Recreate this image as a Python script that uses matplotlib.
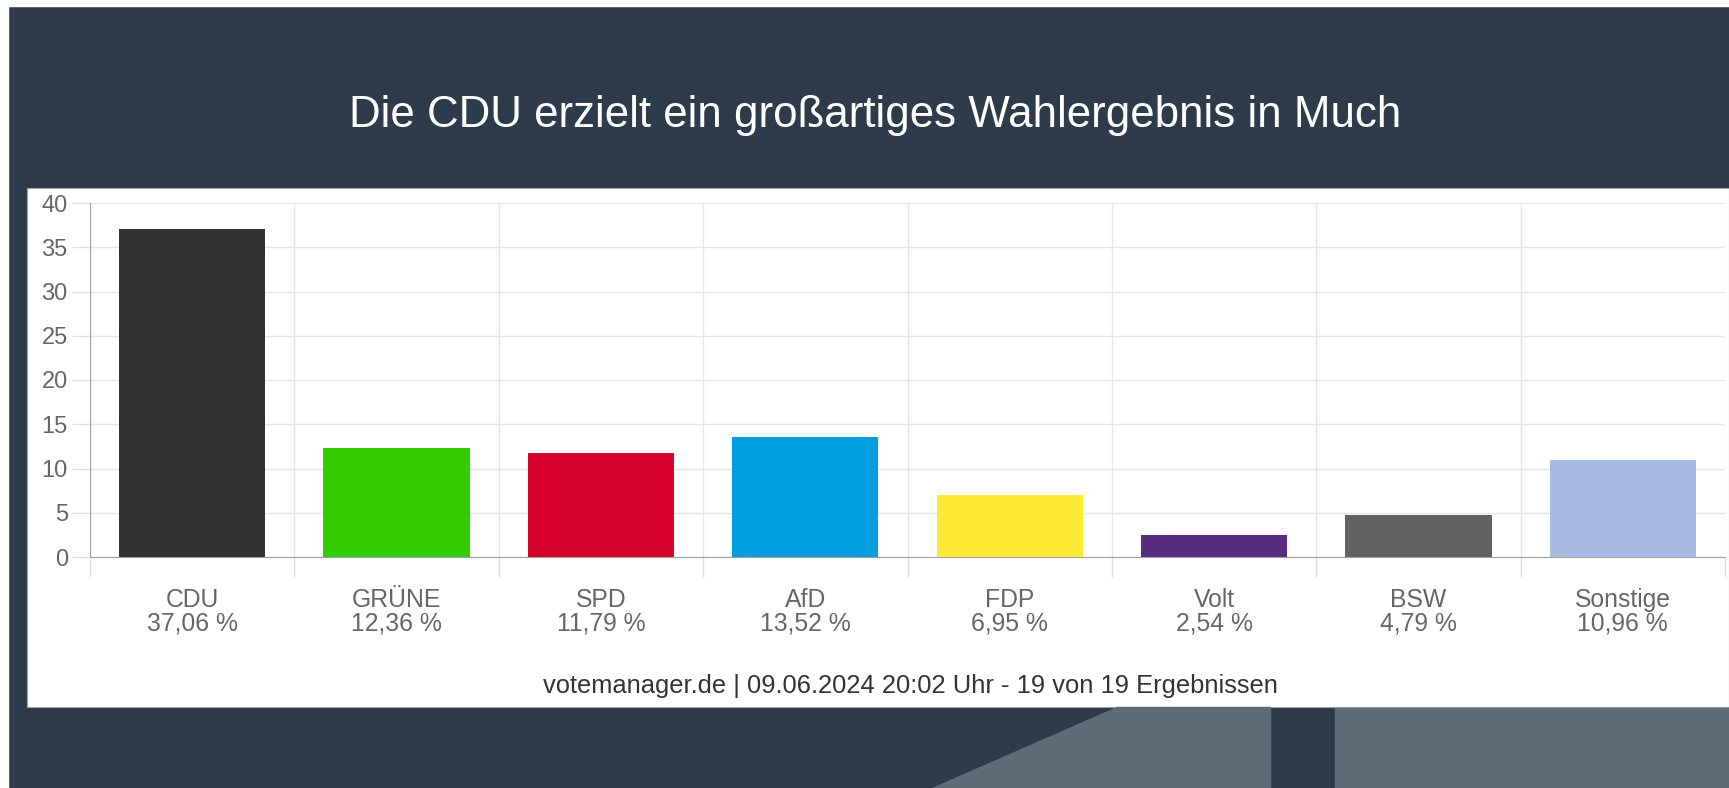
import matplotlib.pyplot as plt
from matplotlib.patches import Rectangle, Polygon

plt.rcParams['font.family'] = ['Liberation Sans', 'DejaVu Sans']

# data
parties = ['CDU', 'GRÜNE', 'SPD', 'AfD', 'FDP', 'Volt', 'BSW', 'Sonstige']
shares = [37.06, 12.36, 11.79, 13.52, 6.95, 2.54, 4.79, 10.96]
share_labels = ['37,06 %', '12,36 %', '11,79 %', '13,52 %', '6,95 %', '2,54 %', '4,79 %', '10,96 %']
colors = ['#323232', '#32cc00', '#d4002a', '#009ee0', '#fcea35', '#582c83', '#626262', '#a8bce2']
y_ticks = [0, 5, 10, 15, 20, 25, 30, 35, 40]

W, H = 1729, 788
bg = '#2d3b4a'
fig = plt.figure(figsize=(W / 100, H / 100), dpi=100, facecolor=bg)

def px(x0, y0, x1, y1):
    # pixel box (top-left origin) -> figure fraction rect
    return (x0 / W, 1 - y1 / H), (x1 - x0) / W, (y1 - y0) / H

# white strips at top and left edge of the screenshot
for box in [(0, 0, W, 6), (0, 0, 8, H)]:
    xy, w, h = px(*box)
    fig.patches.append(Rectangle(xy, w, h, transform=fig.transFigure, color='white', zorder=-2))

# white chart panel
xy, w, h = px(27, 188, W, 707)
fig.patches.append(Rectangle(xy, w, h, transform=fig.transFigure, facecolor='white',
                             edgecolor='#9aa0a6', lw=0.8, zorder=-2))

# decorative gray shapes below the panel
gray = '#5f6b77'
pts = [(1117, 707), (1270, 707), (1270, H), (932, H)]
fig.patches.append(Polygon([(x / W, 1 - y / H) for x, y in pts], closed=True,
                           transform=fig.transFigure, color=gray, zorder=-2))
xy, w, h = px(1335, 708, W, H)
fig.patches.append(Rectangle(xy, w, h, transform=fig.transFigure, color=gray, zorder=-2))

fig.text(875 / W, 1 - 116 / H, 'Die CDU erzielt ein großartiges Wahlergebnis in Much',
         color='white', fontsize=31.6, ha='center', va='center')

ax = fig.add_axes([90 / W, 1 - 557 / H, (1725 - 90) / W, (557 - 203) / H])
ax.set_zorder(1)
ax.set_facecolor('none')
x = list(range(len(parties)))
ax.bar(x, shares, width=0.715, color=colors, zorder=3)

ax.set_xlim(-0.5, len(parties) - 0.5)
ax.set_ylim(0, 40)
ax.set_yticks(y_ticks)
ax.tick_params(axis='y', length=13, color='#e0e0e0', width=1, pad=3, labelsize=17, labelcolor='#666666')

# category borders as major ticks, labels on minor ticks
ax.set_xticks([i - 0.5 for i in range(len(parties) + 1)])
ax.set_xticklabels([])
ax.tick_params(axis='x', which='major', length=14.4, color='#e0e0e0', width=1)
ax.set_xticks(x, minor=True)
ax.set_xticklabels([p + '\n' + s for p, s in zip(parties, share_labels)], minor=True)
ax.tick_params(axis='x', which='minor', length=0, pad=22, labelsize=17.8, labelcolor='#666666')
for t in ax.get_xticklabels(minor=True):
    t.set_linespacing(1.0)

ax.grid(True, which='major', color='#e6e6e6', lw=1, zorder=0)
for s in ['top', 'right']:
    ax.spines[s].set_visible(False)
ax.spines['left'].set_color('#a0a0a0')
ax.spines['bottom'].set_color('#a0a0a0')

fig.text(910 / W, 1 - 686 / H, 'votemanager.de | 09.06.2024 20:02 Uhr - 19 von 19 Ergebnissen',
         color='#333333', fontsize=18.4, ha='center', va='center')

fig.savefig('out.png', dpi=100, facecolor=bg)
